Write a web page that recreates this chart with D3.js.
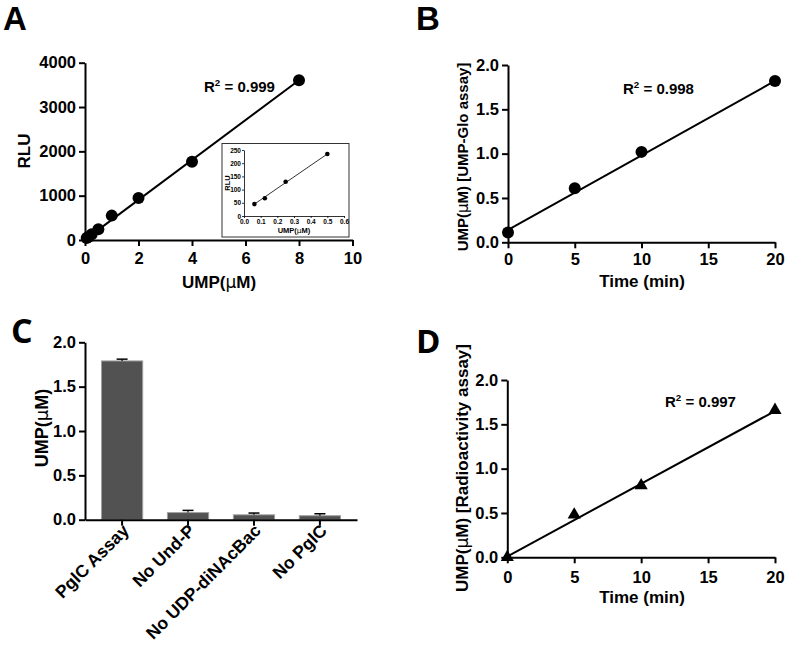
<!DOCTYPE html>
<html>
<head>
<meta charset="utf-8">
<script src="https://cdn.jsdelivr.net/npm/d3@7"></script>
<style>
  html, body { margin: 0; padding: 0; background: #fff; }
  svg { display: block; }
  text { font-family: "Liberation Sans", Arial, sans-serif; font-weight: bold; fill: #000; }
  .letter { font-weight: 700; }
</style>
</head>
<body>
<svg id="chart" width="787" height="646"></svg>
<script>
// ---------- DATA ----------
// Panel A: standard curve
const aX = [0.0625, 0.125, 0.25, 0.5, 1, 2, 4, 8];
const aY = [45, 67, 130, 240, 550, 945, 1765, 3605];
const aFitX = [0.03, 8];
const aFitY = [20, 3605];
const aXTicks = [0, 2, 4, 6, 8, 10];
const aYTicks = [0, 1000, 2000, 3000, 4000];
// Panel A inset
const insetX = [0.0625, 0.125, 0.25, 0.5];
const insetY = [45, 67, 130, 235];
const insetFitX = [0.0625, 0.5];
const insetFitY = [45, 235];
const insetXTicks = [0, 0.1, 0.2, 0.3, 0.4, 0.5, 0.6];
const insetYTicks = [0, 50, 100, 150, 200, 250];
// Panel B: UMP-Glo time course
const bX = [0, 5, 10, 20];
const bY = [0.11, 0.61, 1.02, 1.82];
const bFitX = [0, 20];
const bFitY = [0.14, 1.82];
// Panel C: controls
const cCats = ["PglC Assay", "No Und-P", "No UDP-diNAcBac", "No PglC"];
const cVals = [1.79, 0.08, 0.055, 0.045];
const cErr = [0.02, 0.025, 0.02, 0.022];
// Panel D: radioactivity time course
const dX = [0, 5, 10, 20];
const dY = [0.0, 0.48, 0.81, 1.66];
const dFitX = [0, 20];
const dFitY = [0.01, 1.65];
const timeTicks = [0, 5, 10, 15, 20];
const umpTicks = [0, 0.5, 1.0, 1.5, 2.0];

// ---------- HELPERS ----------
const svg = d3.select("#chart");
svg.append("rect").attr("width", 787).attr("height", 646).attr("fill", "#fff");

function styleAxis(g, fs, sw) {
  g.select(".domain").attr("stroke", "#000").attr("stroke-width", sw);
  g.selectAll(".tick line").attr("stroke", "#000").attr("stroke-width", sw);
  g.selectAll(".tick text").attr("font-size", fs).attr("fill", "#000");
  return g;
}

function rTitle(x, y, txt, fs) {
  const t = svg.append("text").attr("x", x).attr("y", y).attr("font-size", fs);
  t.append("tspan").text("R");
  t.append("tspan").attr("font-size", fs * 0.65).attr("dy", -fs * 0.4).text("2");
  t.append("tspan").attr("dy", fs * 0.4).text(" = " + txt);
}

function umpLabel(sel, suffix) {
  sel.append("tspan").text("UMP(");
  sel.append("tspan").attr("font-family", "DejaVu Sans, sans-serif").attr("font-weight", "normal").text("\u03BC");
  sel.append("tspan").text("M)" + suffix);
}

// ---------- PANEL LETTERS ----------
svg.append("text").attr("class", "letter").attr("x", 3).attr("y", 30)
  .style("font-family", "'Liberation Sans', Arial, sans-serif").attr("font-size", 33).text("A");
svg.append("text").attr("class", "letter").attr("x", 416).attr("y", 30)
  .style("font-family", "'Liberation Sans', Arial, sans-serif").attr("font-size", 33).text("B");
svg.append("text").attr("class", "letter").attr("x", 11).attr("y", 343)
  .style("font-family", "'Open Sans', sans-serif").attr("font-size", 34).text("C");
svg.append("text").attr("class", "letter").attr("x", 416).attr("y", 353)
  .style("font-family", "'Open Sans', sans-serif").attr("font-size", 33).text("D");

// ---------- PANEL A ----------
{
  const x = d3.scaleLinear().domain([0, 10]).range([85, 352.5]);
  const y = d3.scaleLinear().domain([0, 4000]).range([240, 62.7]);
  styleAxis(svg.append("g").attr("transform", "translate(0,240)")
    .call(d3.axisBottom(x).tickValues(aXTicks).tickSize(6).tickSizeOuter(0).tickPadding(6).tickFormat(d3.format("d"))), 16.5, 2);
  styleAxis(svg.append("g").attr("transform", "translate(85,0)")
    .call(d3.axisLeft(y).tickValues(aYTicks).tickSize(6).tickSizeOuter(0).tickPadding(3).tickFormat(d3.format("d"))), 16.5, 2);
  const line = d3.line().x(d => x(d[0])).y(d => y(d[1]));
  svg.append("path").datum(aFitX.map((v, i) => [v, aFitY[i]])).attr("d", line)
    .attr("fill", "none").attr("stroke", "#000").attr("stroke-width", 2);
  svg.append("g").selectAll("circle").data(aX.map((v, i) => [v, aY[i]])).join("circle")
    .attr("cx", d => x(d[0])).attr("cy", d => y(d[1])).attr("r", 6).attr("fill", "#000");
  const xt = svg.append("text").attr("x", 219).attr("y", 288).attr("text-anchor", "middle").attr("font-size", 17);
  umpLabel(xt, "");
  svg.append("text").attr("transform", "translate(30,151) rotate(-90)").attr("text-anchor", "middle")
    .attr("font-size", 17).text("RLU");
  rTitle(204, 92, "0.999", 15);

  // inset
  svg.append("rect").attr("x", 222).attr("y", 143.5).attr("width", 127).attr("height", 93.5)
    .attr("fill", "#fff").attr("stroke", "#333").attr("stroke-width", 1);
  const ix = d3.scaleLinear().domain([0, 0.6]).range([244, 344]);
  const iy = d3.scaleLinear().domain([0, 250]).range([216, 150]);
  styleAxis(svg.append("g").attr("transform", "translate(0,216)")
    .call(d3.axisBottom(ix).tickValues(insetXTicks).tickSize(2).tickSizeOuter(0).tickPadding(1.5).tickFormat(d3.format(".1f"))), 6.5, 0.8);
  styleAxis(svg.append("g").attr("transform", "translate(244,0)")
    .call(d3.axisLeft(iy).tickValues(insetYTicks).tickSize(2).tickSizeOuter(0).tickPadding(1).tickFormat(d3.format("d"))), 6.5, 0.8);
  const iline = d3.line().x(d => ix(d[0])).y(d => iy(d[1]));
  svg.append("path").datum(insetFitX.map((v, i) => [v, insetFitY[i]])).attr("d", iline)
    .attr("fill", "none").attr("stroke", "#000").attr("stroke-width", 0.8);
  svg.append("g").selectAll("circle").data(insetX.map((v, i) => [v, insetY[i]])).join("circle")
    .attr("cx", d => ix(d[0])).attr("cy", d => iy(d[1])).attr("r", 2.3).attr("fill", "#000");
  const ixt = svg.append("text").attr("x", 294).attr("y", 233).attr("text-anchor", "middle").attr("font-size", 7.5);
  umpLabel(ixt, "");
  svg.append("text").attr("transform", "translate(229.5,183) rotate(-90)").attr("text-anchor", "middle")
    .attr("font-size", 7.5).text("RLU");
}

// ---------- PANEL B ----------
{
  const x = d3.scaleLinear().domain([0, 20]).range([508, 775]);
  const y = d3.scaleLinear().domain([0, 2]).range([242.3, 65]);
  styleAxis(svg.append("g").attr("transform", "translate(0,242.3)")
    .call(d3.axisBottom(x).tickValues(timeTicks).tickSize(6).tickSizeOuter(0).tickPadding(5).tickFormat(d3.format("d"))), 16.5, 2);
  styleAxis(svg.append("g").attr("transform", "translate(508,0)")
    .call(d3.axisLeft(y).tickValues(umpTicks).tickSize(6).tickSizeOuter(0).tickPadding(3).tickFormat(d3.format(".1f"))), 16.5, 2);
  const line = d3.line().x(d => x(d[0])).y(d => y(d[1]));
  svg.append("path").datum(bFitX.map((v, i) => [v, bFitY[i]])).attr("d", line)
    .attr("fill", "none").attr("stroke", "#000").attr("stroke-width", 2);
  svg.append("g").selectAll("circle").data(bX.map((v, i) => [v, bY[i]])).join("circle")
    .attr("cx", d => x(d[0])).attr("cy", d => y(d[1])).attr("r", 6).attr("fill", "#000");
  svg.append("text").attr("x", 642).attr("y", 287).attr("text-anchor", "middle").attr("font-size", 17).text("Time (min)");
  const yt = svg.append("text").attr("transform", "translate(468,157) rotate(-90)").attr("text-anchor", "middle")
    .attr("font-size", 15);
  umpLabel(yt, " [UMP-Glo assay]");
  rTitle(623, 94, "0.998", 15);
}

// ---------- PANEL C ----------
{
  const x = d3.scaleBand().domain(cCats).range([85, 357]).paddingInner(0.375).paddingOuter(0.25);
  const y = d3.scaleLinear().domain([0, 2]).range([519.7, 342.3]);
  svg.append("g").selectAll("rect").data(cCats).join("rect")
    .attr("x", d => x(d)).attr("width", x.bandwidth())
    .attr("y", (d, i) => y(cVals[i])).attr("height", (d, i) => y(0) - y(cVals[i]))
    .attr("fill", "#525252").attr("stroke", "#a0a0a0").attr("stroke-width", 1);
  const eg = svg.append("g");
  cCats.forEach((c, i) => {
    const cx = x(c) + x.bandwidth() / 2;
    eg.append("line").attr("x1", cx).attr("x2", cx).attr("y1", y(cVals[i])).attr("y2", y(cVals[i] + cErr[i]))
      .attr("stroke", "#000").attr("stroke-width", 1.2);
    eg.append("line").attr("x1", cx - 5.5).attr("x2", cx + 5.5).attr("y1", y(cVals[i] + cErr[i])).attr("y2", y(cVals[i] + cErr[i]))
      .attr("stroke", "#000").attr("stroke-width", 1.5);
  });
  const xa = svg.append("g").attr("transform", "translate(0,519.7)")
    .call(d3.axisBottom(x).tickSize(6).tickSizeOuter(0));
  styleAxis(xa, 17.5, 2);
  xa.selectAll(".tick text").attr("text-anchor", "end").attr("dy", null).attr("y", null)
    .attr("transform", "translate(8,12) rotate(-45)");
  styleAxis(svg.append("g").attr("transform", "translate(85,0)")
    .call(d3.axisLeft(y).tickValues(umpTicks).tickSize(6).tickSizeOuter(0).tickPadding(3).tickFormat(d3.format(".1f"))), 16.5, 2);
  const yt = svg.append("text").attr("transform", "translate(48,428) rotate(-90)").attr("text-anchor", "middle")
    .attr("font-size", 18);
  umpLabel(yt, "");
}

// ---------- PANEL D ----------
{
  const x = d3.scaleLinear().domain([0, 20]).range([507.3, 775]);
  const y = d3.scaleLinear().domain([0, 2]).range([557.3, 380]);
  styleAxis(svg.append("g").attr("transform", "translate(0,557.3)")
    .call(d3.axisBottom(x).tickValues(timeTicks).tickSize(6).tickSizeOuter(0).tickPadding(8).tickFormat(d3.format("d"))), 16.5, 2);
  styleAxis(svg.append("g").attr("transform", "translate(507.3,0)")
    .call(d3.axisLeft(y).tickValues(umpTicks).tickSize(6).tickSizeOuter(0).tickPadding(3).tickFormat(d3.format(".1f"))), 16.5, 2);
  const line = d3.line().x(d => x(d[0])).y(d => y(d[1]));
  svg.append("path").datum(dFitX.map((v, i) => [v, dFitY[i]])).attr("d", line)
    .attr("fill", "none").attr("stroke", "#000").attr("stroke-width", 2);
  const tri = d3.symbol().type(d3.symbolTriangle).size(75);
  svg.append("g").selectAll("path").data(dX.map((v, i) => [v, dY[i]])).join("path")
    .attr("transform", d => `translate(${x(d[0])},${y(d[1])})`).attr("d", tri).attr("fill", "#000");
  svg.append("text").attr("x", 642).attr("y", 603).attr("text-anchor", "middle").attr("font-size", 17).text("Time (min)");
  const yt = svg.append("text").attr("transform", "translate(468,468) rotate(-90)").attr("text-anchor", "middle")
    .attr("font-size", 17);
  umpLabel(yt, " [Radioactivity assay]");
  rTitle(665, 407, "0.997", 15);
}
</script>
</body>
</html>
